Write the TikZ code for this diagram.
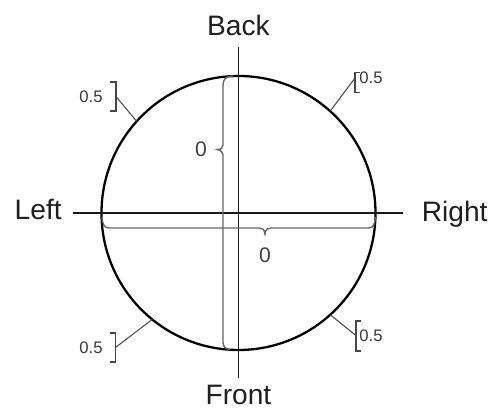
\documentclass[tikz,border=0pt]{standalone}
\usepackage{fontspec}
\setmainfont{Liberation Sans}
\usetikzlibrary{calc}

\begin{document}
\begin{tikzpicture}[
  axis/.style={line width=1.1pt, draw=black!90},
  rim/.style={line width=1.3pt, draw=black},
  brace/.style={line width=.8pt, draw=black!60},
  callout/.style={line width=.6pt, draw=black!70},
  bracket/.style={line width=1pt, draw=black!72},
  side/.style={font=\fontsize{16}{18}\selectfont, text=black!88, inner sep=0pt},
  value/.style={font=\fontsize{12}{14}\selectfont, text=black!75, inner sep=0pt},
  small/.style={font=\fontsize{9.5}{11}\selectfont, text=black!78, inner sep=0pt}
]

\useasboundingbox (-4.77,-3.92) rectangle (5.09,4.26);

% axes and rim
\coordinate (W) at (-3.3,0);
\coordinate (E) at (3.3,0);
\coordinate (N) at (0,3.32);
\coordinate (S) at (0,-3.3);

\draw[rim] (0,0) circle (2.74);
\draw[axis] (W) -- (E);
\draw[axis] (N) -- (S);

\node[side,anchor=base east] (left) at (-3.53,-.14) {Left};
\node[side,anchor=base west] (right) at (3.66,-.18) {Right};
\node[side,anchor=base] (back) at (0,3.54) {Back};
\node[side,anchor=north] (front) at (0,-3.43) {Front};

% vertical brace
\draw[brace] (-.11,2.74) .. controls (-.25,2.74) and (-.31,2.68) .. (-.31,2.55)
  -- (-.31,1.36) .. controls (-.31,1.30) and (-.35,1.27) .. (-.42,1.27)
  .. controls (-.35,1.25) and (-.31,1.22) .. (-.31,1.16)
  -- (-.31,-2.58) .. controls (-.31,-2.68) and (-.26,-2.72) .. (-.17,-2.73);
\node[value] (vzero) at (-.75,1.28) {0};

% horizontal brace
\draw[brace] (-2.73,-.08) .. controls (-2.72,-.24) and (-2.68,-.30) .. (-2.58,-.30)
  -- (.42,-.30) .. controls (.48,-.30) and (.52,-.33) .. (.53,-.42)
  .. controls (.54,-.33) and (.58,-.30) .. (.64,-.30)
  -- (2.60,-.30) .. controls (2.69,-.30) and (2.73,-.24) .. (2.735,-.08);
\node[value] (hzero) at (.53,-.84) {0};

% 0.5 callouts
\foreach \nm/\ang/\bx/\by/\tp/\bt/\d/\anc/\tx in {
    tl/138/-2.45/2.33/2.62/2.04/-1/east/-2.71,
    tr/48/2.33/2.70/2.81/2.41/1/west/2.41,
    bl/-129/-2.46/-2.69/-2.40/-2.98/-1/east/-2.71,
    br/-48/2.35/-2.45/-2.16/-2.76/1/west/2.41}{
  \coordinate (p\nm) at (\ang:2.74);
  \coordinate (b\nm) at (\bx,\by);
  \draw[callout] (p\nm) -- (b\nm);
  \draw[bracket] ({\bx+(\d)*.11},\tp) -- (\bx,\tp) -- (\bx,\bt)
    -- ({\bx+(\d)*.11},\bt);
  \node[small,anchor=\anc] (v\nm) at (\tx,\by) {0.5};
}

\end{tikzpicture}
\end{document}
